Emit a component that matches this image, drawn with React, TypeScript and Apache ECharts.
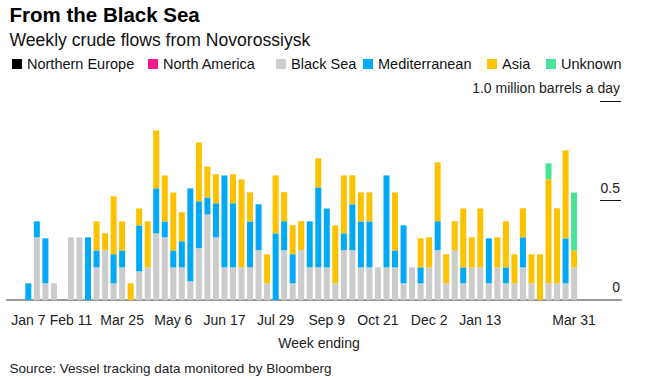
import React, { useEffect, useRef } from "react";
import * as echarts from "echarts";

// Week ending dates: Jan 7 2018 ... Mar 31 2019 (65 weeks of data)
const firstWeek = new Date(2018, 0, 7);
const LEAD_WEEKS = 2; // empty weeks shown before the first week
const TRAIL_WEEKS = 5; // empty weeks shown after the last week

// million barrels a day, one value per week
const northernEurope: number[] = [];
const northAmerica: number[] = [];
const blackSea = [
  0, 0.315, 0.084, 0.084, 0, 0.315, 0.315, 0, 0.164, 0.25,
  0.084, 0.164, 0, 0.144, 0.164, 0.335, 0.315, 0.164, 0.164, 0.094,
  0.26, 0.43, 0.315, 0.164, 0.164, 0.164, 0.164, 0.25, 0.084, 0,
  0.25, 0.084, 0.25, 0.164, 0.164, 0.164, 0.084, 0.25, 0.25, 0.164,
  0.164, 0.164, 0.164, 0.164, 0.084, 0.164, 0.084, 0.164, 0.25, 0.084,
  0.25, 0.084, 0.164, 0.164, 0.084, 0.164, 0.084, 0.084, 0.164, 0.084,
  0, 0.084, 0.084, 0.084, 0.164,
];
const mediterranean = [
  0.084, 0.08, 0.226, 0, 0, 0, 0, 0.315, 0.085, 0,
  0.146, 0.085, 0, 0.231, 0, 0.226, 0.08, 0.085, 0.131, 0.467,
  0.236, 0.085, 0.171, 0.462, 0.322, 0, 0.231, 0.231, 0, 0.335,
  0.146, 0.146, 0, 0.231, 0.402, 0.296, 0, 0.085, 0.231, 0.231,
  0.231, 0, 0.462, 0.085, 0.291, 0, 0.08, 0, 0.146, 0,
  0, 0.08, 0, 0, 0.226, 0, 0.08, 0, 0.151, 0,
  0, 0, 0, 0.226, 0,
];
const asia = [
  0, 0, 0, 0, 0, 0, 0, 0, 0.146, 0.085,
  0.291, 0.146, 0.084, 0.085, 0.231, 0.291, 0.231, 0.291, 0.146, 0,
  0.296, 0.156, 0.146, 0, 0.146, 0.442, 0.146, 0, 0.146, 0.291,
  0.146, 0.146, 0.146, 0, 0.146, 0, 0.291, 0.291, 0.146, 0.146,
  0.146, 0, 0, 0.291, 0, 0, 0.146, 0.151, 0.296, 0.146,
  0.146, 0.296, 0.151, 0.296, 0, 0.151, 0.231, 0.146, 0.146, 0.146,
  0.23, 0.523, 0.377, 0.442, 0.085,
];
const unknown = [
  0, 0, 0, 0, 0, 0, 0, 0, 0, 0,
  0, 0, 0, 0, 0, 0, 0, 0, 0, 0,
  0, 0, 0, 0, 0, 0, 0, 0, 0, 0,
  0, 0, 0, 0, 0, 0, 0, 0, 0, 0,
  0, 0, 0, 0, 0, 0, 0, 0, 0, 0,
  0, 0, 0, 0, 0, 0, 0, 0, 0, 0,
  0, 0.08, 0, 0, 0.291,
];

const tickLabels = ["Jan 7", "Feb 11", "Mar 25", "May 6", "Jun 17", "Jul 29", "Sep 9", "Oct 21", "Dec 2", "Jan 13", "Mar 31"];
const tickWeeks = [0, 5, 11, 17, 23, 29, 35, 41, 47, 53, 64];

const yLabels: Record<string, string> = { "0": "0", "0.5": "0.5", "1": "1.0 million barrels a day" };

const seriesNames = ["Northern Europe", "North America", "Black Sea", "Mediterranean", "Asia", "Unknown"];
const seriesColors = ["#000000", "#f5168b", "#cccccc", "#00a9f4", "#fcc200", "#47e497"];
const seriesData = [northernEurope, northAmerica, blackSea, mediterranean, asia, unknown];
const legendLeft = [12, 148, 276, 363, 487, 546];

const FONT = "'Liberation Sans', Arial, sans-serif";
const MONTHS = ["Jan", "Feb", "Mar", "Apr", "May", "Jun", "Jul", "Aug", "Sep", "Oct", "Nov", "Dec"];

export default function App() {
  const ref = useRef<HTMLDivElement>(null);

  useEffect(() => {
    if (!ref.current) return;
    const chart = echarts.init(ref.current, null, { renderer: "svg" });

    const nWeeks = blackSea.length;
    const total = LEAD_WEEKS + nWeeks + TRAIL_WEEKS;
    const categories: string[] = [];
    for (let i = 0; i < total; i++) {
      const d = new Date(firstWeek.getFullYear(), firstWeek.getMonth(), firstWeek.getDate() + 7 * (i - LEAD_WEEKS));
      categories.push(MONTHS[d.getMonth()] + " " + d.getDate() + " " + d.getFullYear());
    }
    const labelMap: Record<number, string> = {};
    tickWeeks.forEach((w, i) => {
      labelMap[w + LEAD_WEEKS] = tickLabels[i];
    });
    const isTick = (i: number) => labelMap[i] !== undefined;

    const pad = (arr: number[]) => {
      const out: (number | null)[] = [];
      for (let i = 0; i < total; i++) {
        const k = i - LEAD_WEEKS;
        out.push(k >= 0 && k < arr.length ? arr[k] : null);
      }
      return out;
    };

    chart.setOption({
      animation: false,
      grid: { left: 7, right: 30, top: 101, bottom: 80, containLabel: false },
      legend: seriesNames.map((name, i) => ({
        data: [name],
        left: legendLeft[i],
        top: 56.5,
        padding: 0,
        icon: "rect",
        itemWidth: 10,
        itemHeight: 10,
        selectedMode: false,
        textStyle: { fontSize: 14.5, color: "#111", fontFamily: FONT },
      })),
      xAxis: {
        type: "category",
        data: categories,
        axisLine: { lineStyle: { color: "#999999", width: 2 } },
        axisTick: {
          interval: (i: number) => isTick(i),
          alignWithLabel: true,
          length: 6,
          lineStyle: { color: "#222", width: 1 },
        },
        axisLabel: {
          interval: (i: number) => isTick(i),
          formatter: (_v: string, i: number) => labelMap[i] ?? "",
          fontSize: 14,
          color: "#222",
          margin: 13,
          fontFamily: FONT,
        },
      },
      yAxis: {
        type: "value",
        position: "right",
        min: 0,
        max: 1,
        interval: 0.5,
        splitLine: { show: false },
        axisLine: { show: false },
        axisTick: {
          show: true,
          inside: true,
          length: 21,
          customValues: [0.5, 1],
          lineStyle: { color: "#111", width: 1 },
        },
        axisLabel: {
          inside: true,
          margin: 1,
          verticalAlign: "bottom",
          padding: [0, 0, 6, 0],
          fontSize: 14,
          color: "#222",
          fontFamily: FONT,
          formatter: (v: number) => yLabels[String(v)] ?? String(v),
        },
      },
      series: seriesNames.map((name, i) => ({
        name,
        type: "bar",
        stack: "total",
        barWidth: 6,
        itemStyle: { color: seriesColors[i] },
        data: pad(seriesData[i]),
      })),
      graphic: [
        {
          type: "text",
          x: 9.5,
          y: 14,
          style: { text: "From the Black Sea", font: `bold 20.5px ${FONT}`, fill: "#000", verticalAlign: "middle" },
        },
        {
          type: "text",
          x: 9.5,
          y: 39.5,
          style: { text: "Weekly crude flows from Novorossiysk", font: `17.6px ${FONT}`, fill: "#111", verticalAlign: "middle" },
        },
        {
          type: "text",
          x: 319,
          y: 343,
          style: { text: "Week ending", font: `14px ${FONT}`, fill: "#222", align: "center", verticalAlign: "middle" },
        },
        {
          type: "text",
          x: 9.5,
          y: 368,
          style: { text: "Source: Vessel tracking data monitored by Bloomberg", font: `13.5px ${FONT}`, fill: "#222", verticalAlign: "middle" },
        },
      ],
    });

    return () => chart.dispose();
  }, []);

  return <div ref={ref} style={{ position: "absolute", left: 0, top: 0, width: 651, height: 380 }} />;
}
